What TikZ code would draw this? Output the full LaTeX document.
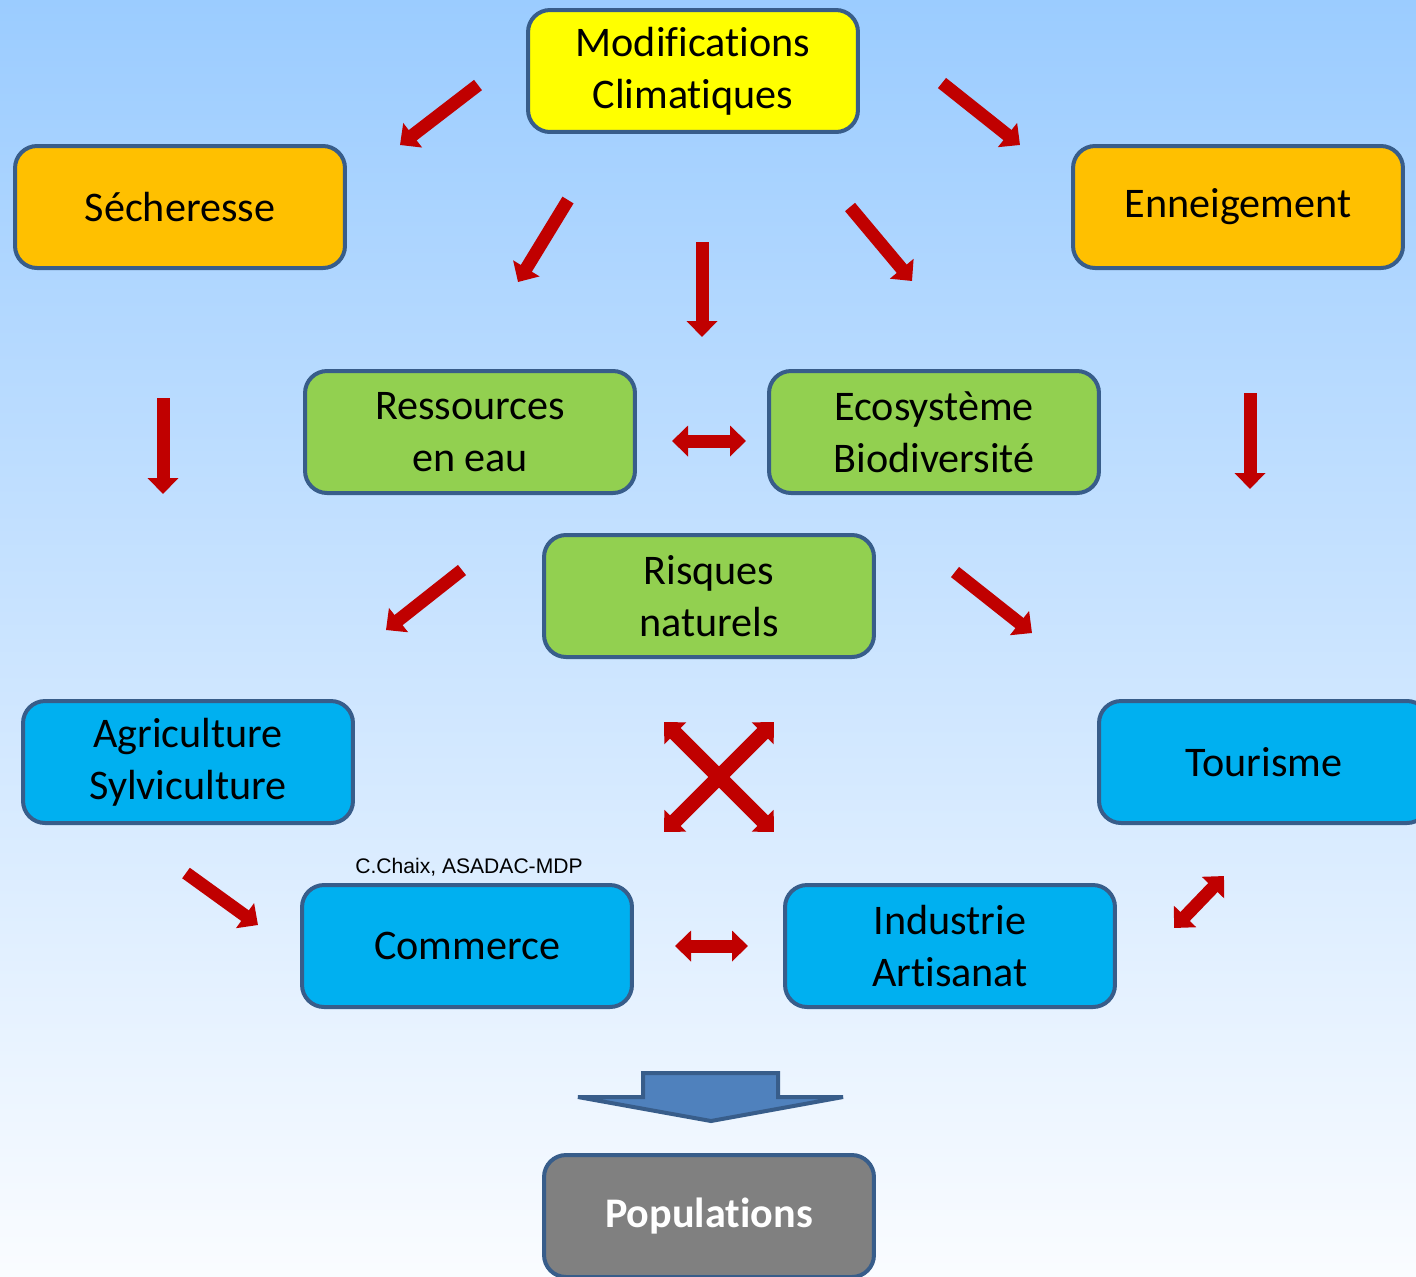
\documentclass[tikz,border=0pt]{standalone}
\usepackage{fontspec}
\setmainfont{Carlito}[RawFeature=-liga]
\newfontfamily\creditfont{Liberation Sans}
\usetikzlibrary{arrows.meta}
\definecolor{frame}{RGB}{56,93,138}
\definecolor{yel}{RGB}{255,255,0}
\definecolor{orng}{RGB}{255,192,0}
\definecolor{grn}{RGB}{146,208,80}
\definecolor{sky}{RGB}{0,176,240}
\definecolor{greyp}{RGB}{128,128,128}
\definecolor{redarr}{RGB}{192,0,0}
\definecolor{bigblue}{RGB}{79,129,189}
\definecolor{bgtop}{RGB}{155,204,255}
\definecolor{bgmid}{RGB}{192,213,238}
\definecolor{bgbot}{RGB}{250,252,255}

\begin{document}
\begin{tikzpicture}[x=0.02cm,y=-0.02cm,
      >={Triangle[width=0.6cm,length=0.32cm]},
      box/.style={draw=frame,line width=0.08cm,rounded corners=0.44cm,minimum width=6.6cm,
                  minimum height=2.44cm,inner sep=2pt,align=center,
                  font=\fontsize{24}{29.5}\selectfont},
      arr/.style={->,line width=0.26cm,color=redarr},
      darr/.style={<->,line width=0.26cm,color=redarr},
      xarr/.style={<->,line width=0.3cm,color=redarr},
    ]
    \useasboundingbox (0,0) rectangle (1416,1276);
    \clip (0,0) rectangle (1416,1276);
    \shade[top color=bgtop,middle color=bgmid,bottom color=bgbot] (0,0) rectangle (1416,1276);
    % boxes
    \node[box,fill=yel]   (MC) at (693,71)   {Modifications\\Climatiques};
    \node[box,fill=orng]  (SE) at (180,207)  {Sécheresse};
    \node[box,fill=orng]  (EN) at (1238,207) {Enneigement};
    \node[box,fill=grn]   (RE) at (470,432)  {Ressources\\en eau};
    \node[box,fill=grn]   (EB) at (934,432)  {Ecosystème\\Biodiversité};
    \node[box,fill=grn]   (RN) at (709,596)  {Risques\\naturels};
    \node[box,fill=sky]   (AS) at (188,762)  {Agriculture\\Sylviculture};
    \node[box,fill=sky]   (TO) at (1264,762) {Tourisme};
    \node[box,fill=sky]   (CO) at (467,946)  {Commerce};
    \node[box,fill=sky]   (IA) at (950,946)  {Industrie\\Artisanat};
    \node[box,fill=greyp,text=white,font=\fontsize{24}{29.5}\selectfont\bfseries] (PO) at (709,1216) {Populations};
    \node[font=\creditfont\fontsize{12}{14}\selectfont] (CR) at (469,867) {C.Chaix, ASADAC-MDP};
    % arrow ends
    \coordinate (a1) at (478,85);   \coordinate (b1) at (400,145);
    \coordinate (a2) at (942,83);   \coordinate (b2) at (1020,145);
    \coordinate (a3) at (568,200);  \coordinate (b3) at (518,282);
    \coordinate (a4) at (702,242);  \coordinate (b4) at (702,337);
    \coordinate (a5) at (850,207);  \coordinate (b5) at (912,281);
    \coordinate (a6) at (163,398);  \coordinate (b6) at (163,494);
    \coordinate (a7) at (1250,393); \coordinate (b7) at (1250,489);
    \coordinate (a8) at (462,570);  \coordinate (b8) at (386,630);
    \coordinate (a9) at (955,572);  \coordinate (b9) at (1032,633);
    \coordinate (a10) at (186,873); \coordinate (b10) at (258,925);
    \coordinate (a11) at (672,441); \coordinate (b11) at (746,441);
    \coordinate (a12) at (675,946); \coordinate (b12) at (748,946);
    \coordinate (a13) at (1174,928); \coordinate (b13) at (1224,876);
    \coordinate (x1) at (664,722);  \coordinate (x2) at (774,832);
    \coordinate (x3) at (774,722);  \coordinate (x4) at (664,832);
    \draw[arr] (a1) -- (b1);  \draw[arr] (a2) -- (b2);
    \draw[arr] (a3) -- (b3);  \draw[arr] (a4) -- (b4);
    \draw[arr] (a5) -- (b5);  \draw[arr] (a6) -- (b6);
    \draw[arr] (a7) -- (b7);  \draw[arr] (a8) -- (b8);
    \draw[arr] (a9) -- (b9);  \draw[arr] (a10) -- (b10);
    \draw[darr] (a11) -- (b11); \draw[darr] (a12) -- (b12);
    \draw[darr] (a13) -- (b13);
    \draw[xarr] (x1) -- (x2); \draw[xarr] (x3) -- (x4);
    % big arrow down to populations
    \draw[draw=frame,fill=bigblue,line width=0.08cm,line join=miter]
      (643,1073) -- (778,1073) -- (778,1097) -- (843,1097) -- (711,1121)
      -- (578,1097) -- (643,1097) -- cycle;
\end{tikzpicture}
\end{document}
